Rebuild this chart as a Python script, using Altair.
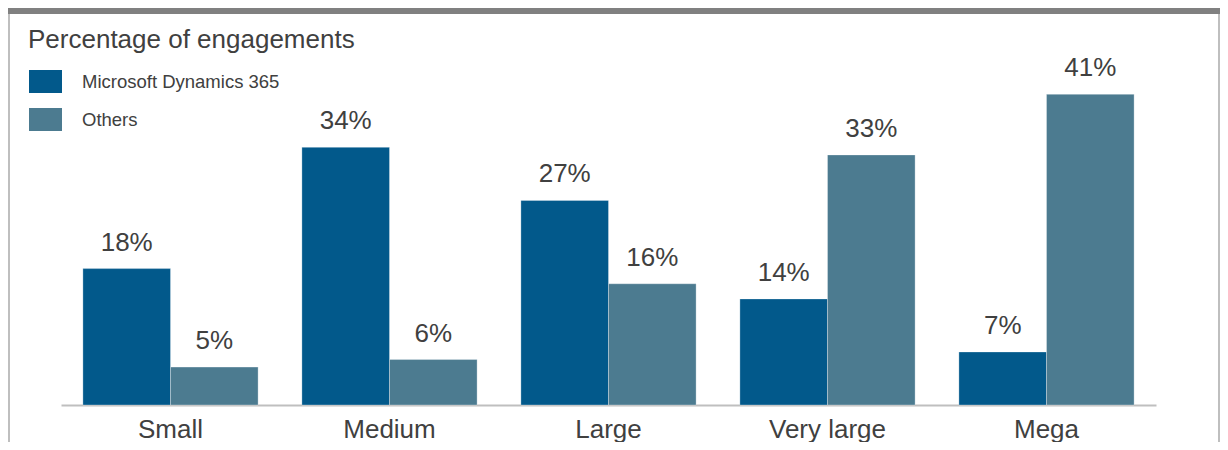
import altair as alt
import pandas as pd

sizes = ["Small", "Medium", "Large", "Very large", "Mega"]
series = ["Microsoft Dynamics 365", "Others"]
dynamics = [18, 34, 27, 14, 7]
others = [5, 6, 16, 33, 41]
colors = ["#02598B", "#4C7B90"]
title_text = "Percentage of engagements"

rows = []
for i, s in enumerate(sizes):
    rows.append({"size": s, "series": series[0], "value": dynamics[i], "label": f"{dynamics[i]}%"})
    rows.append({"size": s, "series": series[1], "value": others[i], "label": f"{others[i]}%"})
df = pd.DataFrame(rows)

FONT = "Liberation Sans"
TXT = "#404040"
W, H = 1095, 341
PL, PT, PR, PB = 53, 56, 64, 37

x_enc = alt.X("size:N", sort=sizes, title=None,
              scale=alt.Scale(paddingInner=0.2, paddingOuter=0.1),
              axis=alt.Axis(ticks=False, labelAngle=0, labelFontSize=26, labelFont=FONT,
                            labelColor=TXT, labelPadding=32, labelBaseline="alphabetic",
                            domainColor="#BFBFBF", domainWidth=2, grid=False))
y_enc = alt.Y("value:Q", scale=alt.Scale(domain=[0, 45], nice=False), axis=None)
xo = alt.XOffset("series:N", sort=series, scale=alt.Scale(paddingInner=0, paddingOuter=0))
color = alt.Color("series:N", sort=series,
                  scale=alt.Scale(domain=series, range=colors),
                  legend=alt.Legend(orient="none", legendX=-32, legendY=1, title=None,
                                    symbolType="M-1,-0.697H1V0.697H-1Z", symbolSize=1089,
                                    symbolStrokeWidth=0, symbolOpacity=1,
                                    labelFont=FONT, labelFontSize=18.5, labelColor=TXT,
                                    labelLimit=500,
                                    labelOffset=20, rowPadding=9, padding=0))

bars = alt.Chart(df).mark_bar(stroke="#ffffff", strokeWidth=0.5, strokeOpacity=0.6).encode(
    x=x_enc, xOffset=xo, y=y_enc, color=color)

labels = alt.Chart(df).mark_text(font=FONT, fontSize=26, color=TXT, dy=-18,
                                 baseline="alphabetic", align="center").encode(
    x=alt.X("size:N", sort=sizes), xOffset=xo, y=alt.Y("value:Q"), text="label:N")

title = alt.Chart(pd.DataFrame({"t": [title_text]})).mark_text(
    font=FONT, fontSize=26, color=TXT, align="left", baseline="alphabetic").encode(
    x=alt.value(-33), y=alt.value(-16), text="t:N")

topbar = alt.Chart(pd.DataFrame({"a": [0]})).mark_rect(color="#808080").encode(
    x=alt.value(-PL), x2=alt.value(W + PR), y=alt.value(-PT), y2=alt.value(-PT + 6))
leftline = alt.Chart(pd.DataFrame({"a": [0]})).mark_rule(color="#BFBFBF", strokeWidth=2).encode(
    x=alt.value(-PL + 1), y=alt.value(-PT + 6), y2=alt.value(H + PB))
rightline = alt.Chart(pd.DataFrame({"a": [0]})).mark_rule(color="#BFBFBF", strokeWidth=2).encode(
    x=alt.value(W + PR - 1), y=alt.value(-PT + 6), y2=alt.value(H + PB))

chart = alt.layer(bars, labels, title, topbar, leftline, rightline).properties(
    width=W, height=H,
    autosize=alt.AutoSizeParams(type="none"),
    padding={"left": PL, "top": PT, "right": PR, "bottom": PB},
    background="white",
).configure_view(stroke=None)

chart.save("out.html", embed_options={"renderer": "svg", "actions": False})
